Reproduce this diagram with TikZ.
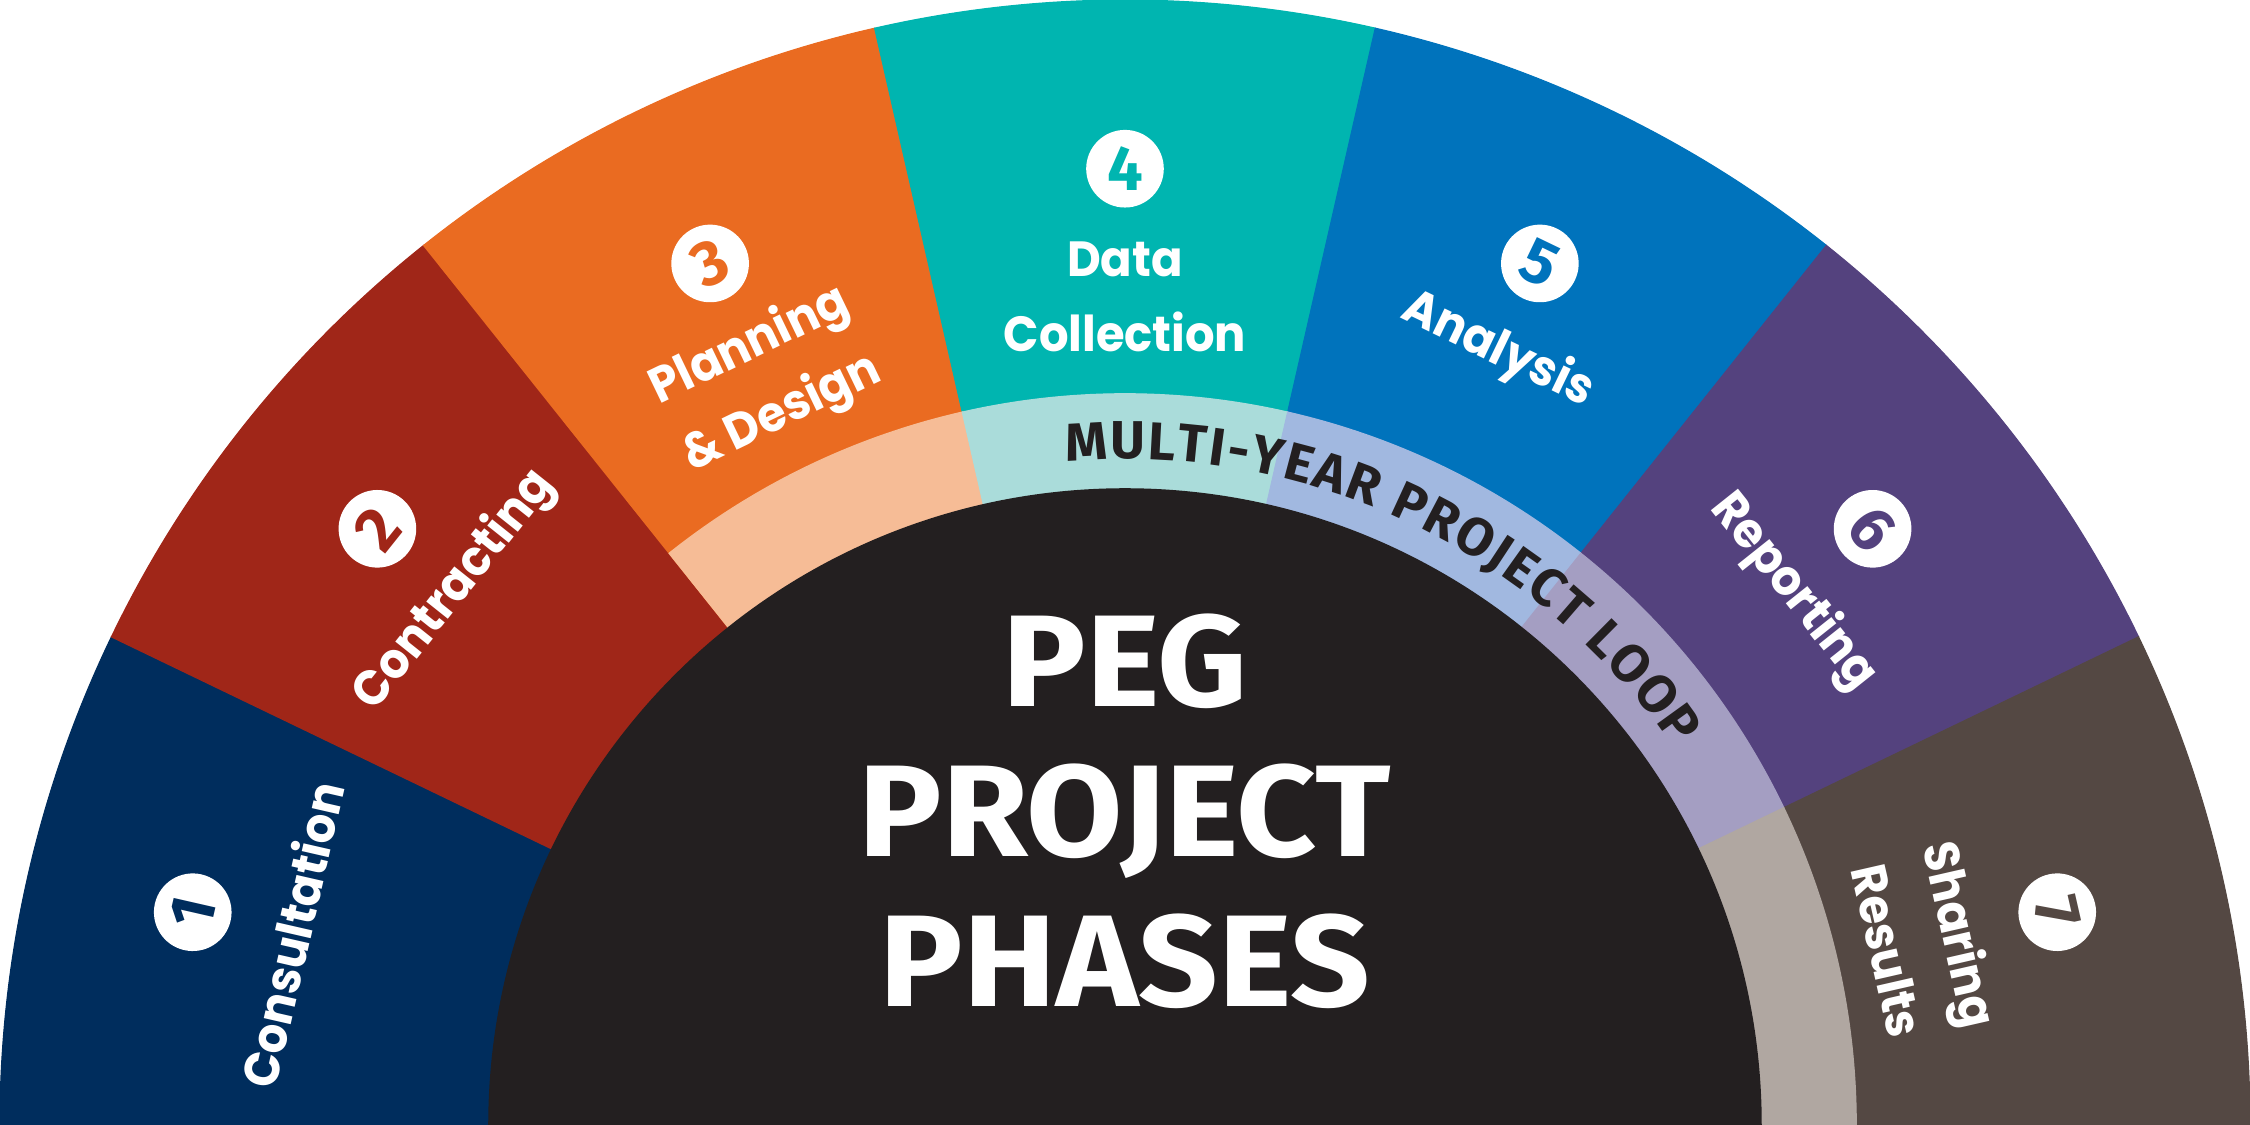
\documentclass[tikz,border=0pt]{standalone}
\usepackage{fontspec}
\setmainfont{Poppins}[FakeStretch=0.94]
\newfontfamily\pegfont{Fira Sans}
\newfontfamily\pegwide{Fira Sans}[FakeStretch=1.07]
\usetikzlibrary{decorations.text}

\definecolor{phaseA}{HTML}{002D5D}
\definecolor{phaseB}{HTML}{A02618}
\definecolor{phaseC}{HTML}{EA6B21}
\definecolor{phaseD}{HTML}{00B5B0}
\definecolor{phaseE}{HTML}{0073BC}
\definecolor{phaseF}{HTML}{54427E}
\definecolor{phaseG}{HTML}{544843}
\definecolor{loopC}{HTML}{F6BC96}
\definecolor{loopD}{HTML}{AADCDA}
\definecolor{loopE}{HTML}{A1B8E0}
\definecolor{loopF}{HTML}{A49EC2}
\definecolor{loopG}{HTML}{B0A7A1}
\definecolor{pegdark}{HTML}{231F20}

\begin{document}
\begin{tikzpicture}[
		phase/.style={font=\bfseries\fontsize{12.5}{18.9}\selectfont,
			text=white, align=center, inner sep=0pt},
		numdot/.style={circle, fill=white, minimum size=6.9mm, inner sep=0pt,
			font=\pegfont\bfseries\fontsize{16}{16}\selectfont},
		title/.style={font=\pegwide\bfseries\fontsize{33}{38}\selectfont,
			text=white, anchor=base, inner sep=0pt},
		]
		\useasboundingbox (-10,0) rectangle (10,10);
		
		% seven phases
		\foreach \i/\col in {1/phaseA,2/phaseB,3/phaseC,4/phaseD,5/phaseE,6/phaseF,7/phaseG} {
			\pgfmathsetmacro\a{180-(\i-1)*180/7}
			\pgfmathsetmacro\b{180-\i*180/7}
			\filldraw[\col, line width=0.3pt] (0,0) -- (\a:10) arc[start angle=\a, end angle=\b, radius=10] -- cycle;
		}
		% multi-year loop ring
		\foreach \i/\col in {3/loopC,4/loopD,5/loopE,6/loopF,7/loopG} {
			\pgfmathsetmacro\a{180-(\i-1)*180/7}
			\pgfmathsetmacro\b{180-\i*180/7}
			\filldraw[\col, line width=0.3pt] (0,0) -- (\a:6.5) arc[start angle=\a, end angle=\b, radius=6.5] -- cycle;
		}
		\fill[pegdark] (-5.66,0) arc[start angle=180, end angle=0, radius=5.66] -- cycle;
		
		\path[decorate, decoration={text along path, text align=fit to path,
			text color=pegdark,
			text={|\pegfont\bfseries\fontsize{13.5}{13.5}\selectfont|MULTI-YEAR PROJECT LOOP}}]
		(95:5.92) arc[start angle=95, end angle=34.5, radius=5.92];
		
		% numbers and labels
		\foreach \i/\col/\txt/\r in {1/phaseA/Consultation/7.6,
			2/phaseB/Contracting/7.62,
			3/phaseC/{Planning\\\& Design}/7.35,
			4/phaseD/{Data\\Collection}/7.36,
			5/phaseE/Analysis/7.64,
			6/phaseF/Reporting/7.6,
			7/phaseG/{Sharing\\Results}/7.3} {
			\pgfmathsetmacro\m{180-(\i-0.5)*180/7}
			\node[numdot, text=\col, rotate=\m-90] (n\i) at (\m:8.5) {\i};
			\node[phase, rotate=\m-90] (l\i) at (\m:\r) {\txt};
		}
		
		\node[title] (peg) at (0,3.72) {PEG};
		\node[title] (project) at (0,2.385) {PROJECT};
		\node[title] (phases) at (0,1.05) {PHASES};
	\end{tikzpicture}
\end{document}
